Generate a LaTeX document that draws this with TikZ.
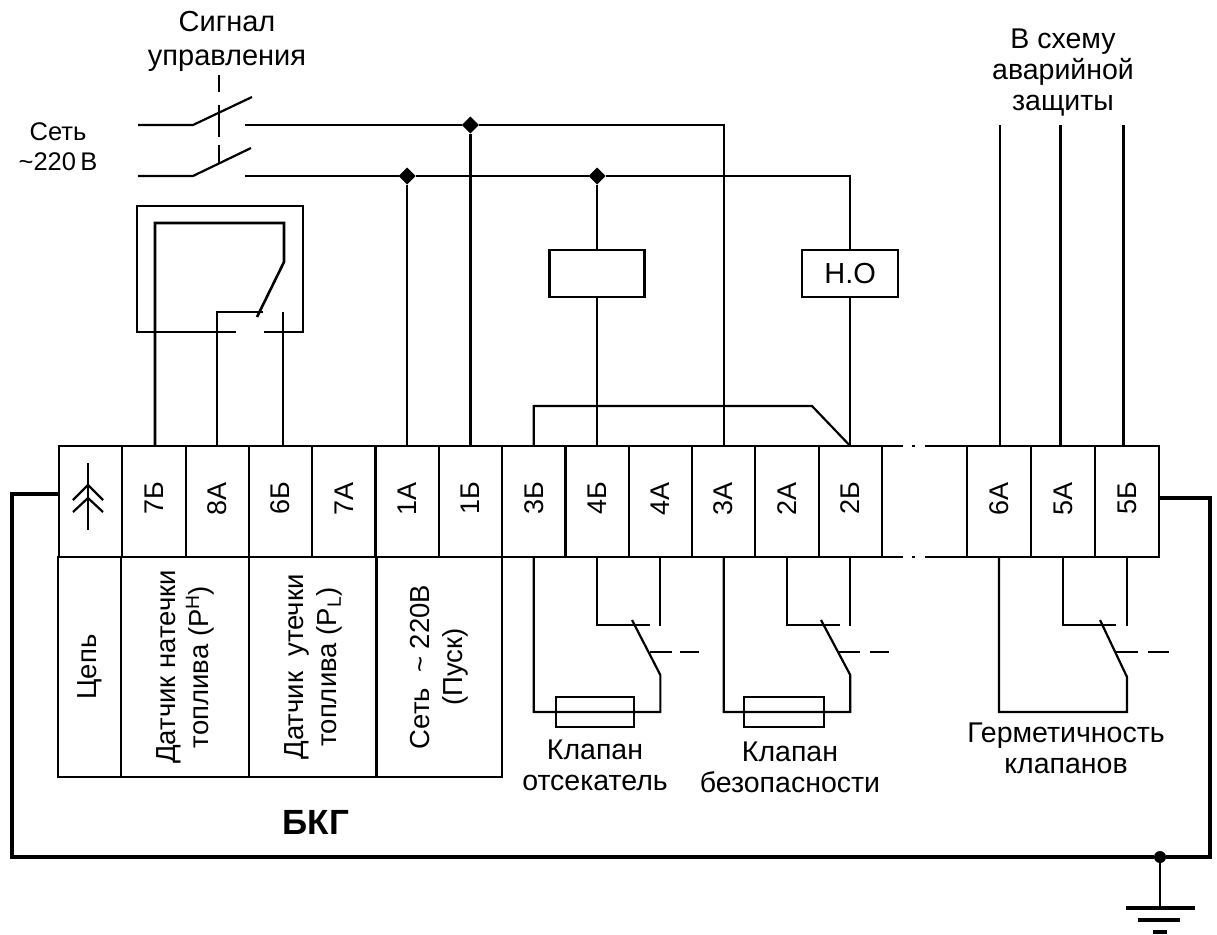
\documentclass[tikz,border=0pt]{standalone}
\usepackage{fontspec}
\usepackage{graphicx}
\setmainfont{Liberation Sans}
\usetikzlibrary{shapes.geometric}
\tikzset{
	wire/.style={line width=2.2pt, line join=miter},
	mainwire/.style={line width=3.4pt},
	dashwire/.style={line width=1.2pt},
	cell/.style={draw, line width=2.2pt, inner sep=0pt, outer sep=0pt, minimum width=63.3pt, minimum height=111pt, font=\fontsize{27}{30}\selectfont},
	info/.style={draw, line width=2.2pt, inner sep=0pt, outer sep=0pt, minimum height=220pt, font=\fontsize{27.5}{33}\selectfont},
	relaybox/.style={draw, line width=2.2pt, inner sep=0pt, outer sep=0pt, minimum height=47pt},
	valvebox/.style={draw, line width=2.2pt, inner sep=0pt, outer sep=0pt, minimum width=78pt, minimum height=30pt},
	junction/.style={diamond, fill=black, inner sep=0pt, outer sep=0pt, minimum size=17pt},
	txt/.style={align=center, inner sep=0pt, font=\fontsize{28.5}{31}\selectfont},
}
\def\vtext#1{\rotatebox{90}{\begin{tabular}{@{}c@{}}#1\end{tabular}}}
\def\cellname#1{\rotatebox{90}{\hspace*{6pt}#1}}
\begin{document}
\begin{tikzpicture}[x=1pt, y=-1pt]
	\useasboundingbox (0, 0) rectangle (1217, 934);
	%%%%% TERMINALS %%%%%

	\node[cell] (tcom) at (90.65, 501.5) {};
	\node[cell] (t7b) at (153.95, 501.5) {\cellname{7Б}};
	\node[cell] (t8a) at (217.25, 501.5) {\cellname{8А}};
	\node[cell] (t6b) at (280.55, 501.5) {\cellname{6Б}};
	\node[cell] (t7a) at (343.85, 501.5) {\cellname{7А}};
	\node[cell] (t1a) at (407.15, 501.5) {\cellname{1А}};
	\node[cell] (t1b) at (470.45, 501.5) {\cellname{1Б}};
	\node[cell] (t3b) at (533.75, 501.5) {\cellname{3Б}};
	\node[cell] (t4b) at (597.05, 501.5) {\cellname{4Б}};
	\node[cell] (t4a) at (660.35, 501.5) {\cellname{4А}};
	\node[cell] (t3a) at (723.65, 501.5) {\cellname{3А}};
	\node[cell] (t2a) at (786.95, 501.5) {\cellname{2А}};
	\node[cell] (t2b) at (850.25, 501.5) {\cellname{2Б}};
	\node[cell, minimum width=64pt] (t6a) at (999, 501.5) {\cellname{6А}};
	\node[cell, minimum width=64pt] (t5a) at (1063, 501.5) {\cellname{5А}};
	\node[cell, minimum width=64pt] (t5b) at (1127, 501.5) {\cellname{5Б}};

	% broken part of the strip
	\draw[wire] (t2b.north east) -- (903, 446);
	\draw[wire] (912, 446) -- (915, 446);
	\draw[wire] (925, 446) -- (t6a.north west);
	\draw[wire] (t2b.south east) -- (903, 557);
	\draw[wire] (912, 557) -- (915, 557);
	\draw[wire] (925, 557) -- (t6a.south west);

	% plug symbol
	\draw[wire] (88, 463) -- (88, 530);
	\draw[wire] (73, 500) -- (88, 485) -- (103, 500);
	\draw[wire] (73, 512) -- (88, 498) -- (103, 512);

	%%%%% LOWER TABLE %%%%%

	\node[info, minimum width=63pt] (icirc) at (89.5, 667) {\vtext{Цепь}};
	\node[info, minimum width=128pt] (ipn) at (185, 667) {\vtext{Датчик натечки\\топлива (Р\textsuperscript{Н})}};
	\node[info, minimum width=128pt] (ipl) at (313, 667) {\vtext{Датчик\ \ утечки\\топлива (P\textsubscript{L})}};
	\node[info, minimum width=126pt] (inet) at (439, 667) {\vtext{Сеть\ \ \textasciitilde\ 220В\\(Пуск)}};

	%%%%% MAINS AND SWITCHES %%%%%

	\coordinate (sa1) at (138, 125);
	\coordinate (sa2) at (193, 125);
	\coordinate (sa3) at (252, 97);
	\coordinate (sa4) at (245, 125);
	\coordinate (sb1) at (138, 176);
	\coordinate (sb2) at (193, 176);
	\coordinate (sb3) at (251, 148);
	\coordinate (sb4) at (245, 176);

	\draw[wire] (sa1) -- (sa2) -- (sa3);
	\draw[wire] (sb1) -- (sb2) -- (sb3);

	\node[junction] (ja) at (470.45, 125) {};
	\node[junction] (jb) at (407.15, 176) {};
	\node[junction] (jc) at (597.05, 176) {};

	\draw[wire] (sa4) -- (ja) -| (t3a.north);
	\draw[wire] (ja) -- (t1b.north);
	\draw[wire] (sb4) -- (jb) -- (jc);
	\draw[wire] (jb) -- (t1a.north);

	\draw[dashwire] (219, 75) -- (219, 92);
	\draw[dashwire] (219, 105) -- (219, 137);
	\draw[dashwire] (219, 145) -- (219, 163);

	%%%%% RELAY AND N.O. %%%%%

	\node[relaybox, minimum width=95pt] (rel) at (597.05, 273.5) {};
	\node[relaybox, minimum width=96pt, font=\fontsize{29}{32}\selectfont] (no) at (850.25, 273.5) {Н.О};

	\draw[wire] (jc) -- (rel.north);
	\draw[wire] (rel.south) -- (t4b.north);
	\draw[wire] (jc) -| (no.north);
	\draw[wire] (no.south) -- (t2b.north);

	\coordinate (by1) at (533.75, 406);
	\coordinate (by2) at (812, 406);
	\draw[wire] (t3b.north) -- (by1) -- (by2) -- (t2b.north);

	%%%%% SENSOR %%%%%

	\draw[line width=1.3pt] (236, 332) -- (137, 332) -- (137, 206) -- (303, 206) -- (303, 332) -- (264, 332);
	\coordinate (d1) at (284, 223);
	\coordinate (d2) at (284, 262);
	\coordinate (d3) at (257, 317);
	\coordinate (d4) at (263, 312);
	\coordinate (d5) at (283, 312);
	\draw[line width=2.6pt] ([xshift=1pt]t7b.north) |- (d1) -- (d2) -- (d3);
	\draw[wire] (t8a.north) |- (d4);
	\draw[wire] ([xshift=2.45pt]t6b.north) -- (d5);

	%%%%% VALVES %%%%%

	\node[valvebox] (va) at (595, 712) {};
	\node[valvebox, minimum width=80pt] (vb) at (784, 712) {};

	\coordinate (ka1) at (660.35, 712);
	\coordinate (ka2) at (660.35, 675);
	\coordinate (ka3) at (632, 620);
	\coordinate (ka4) at (650, 625);
	\coordinate (ka5) at (660.35, 626);
	\draw[wire] (t3b.south) |- (ka1) -- (ka2) -- (ka3);
	\draw[wire] (t4b.south) |- (ka4);
	\draw[wire] (t4a.south) -- (ka5);
	\draw[dashwire] (650, 652) -- (672, 652);
	\draw[dashwire] (680, 652) -- (699, 652);

	\coordinate (kb1) at (850.25, 712);
	\coordinate (kb2) at (850.25, 675);
	\coordinate (kb3) at (821, 620);
	\coordinate (kb4) at (840, 625);
	\coordinate (kb5) at (850.25, 626);
	\draw[wire] (t3a.south) |- (kb1) -- (kb2) -- (kb3);
	\draw[wire] (t2a.south) |- (kb4);
	\draw[wire] (t2b.south) -- (kb5);
	\draw[dashwire] (838, 652) -- (860, 652);
	\draw[dashwire] (870, 652) -- (889, 652);

	\coordinate (kc1) at (1127, 712);
	\coordinate (kc2) at (1127, 677);
	\coordinate (kc3) at (1100, 620);
	\coordinate (kc4) at (1116, 625);
	\coordinate (kc5) at (1127, 626);
	\draw[wire] (t6a.south) |- (kc1) -- (kc2) -- (kc3);
	\draw[wire] (t5a.south) |- (kc4);
	\draw[wire] (t5b.south) -- (kc5);
	\draw[dashwire] (1115, 652) -- (1138, 652);
	\draw[dashwire] (1148, 652) -- (1169, 652);

	%%%%% ALARM CIRCUIT %%%%%

	\coordinate (ala) at (1000, 125);
	\coordinate (alb) at (1060.5, 125);
	\coordinate (alc) at (1123.5, 125);
	\draw[wire] (ala) -- ([xshift=1pt]t6a.north);
	\draw[wire] (alb) -- ([xshift=-2.5pt]t5a.north);
	\draw[wire] (alc) -- ([xshift=-3.5pt]t5b.north);

	%%%%% EARTH LOOP %%%%%

	\node[circle, fill=black, inner sep=0pt, minimum size=12pt] (gnd) at (1160, 857) {};
	\coordinate (lp1) at (12, 494);
	\coordinate (lp2) at (1210, 498);
	\draw[mainwire] (tcom.west |- lp1) -- (lp1) |- (gnd);
	\draw[mainwire] (t5b.east |- lp2) -- (lp2) |- (gnd);

	\coordinate (ge) at (1160, 908);
	\draw[wire] (gnd) -- (ge);
	\draw[mainwire] (1126, 908) -- (1195, 908);
	\draw[mainwire] (1138, 920) -- (1180, 920);
	\draw[mainwire] (1153, 932) -- (1167, 932);

	%%%%% LABELS %%%%%

	\node[txt, font=\fontsize{29}{34}\selectfont] (lsig) at (227, 41) {Сигнал\\управления};
	\node[txt, font=\fontsize{25.5}{30}\selectfont] (lnet) at (58, 147) {Сеть\\\textasciitilde220\,В};
	\node[txt] (lalarm) at (1063, 73) {В схему\\аварийной\\защиты};
	\node[txt] (lva) at (595, 765.5) {Клапан\\отсекатель};
	\node[txt] (lvb) at (790, 767) {Клапан\\безопасности};
	\node[txt] (lherm) at (1066, 748) {Герметичность\\клапанов};
	\node[txt, font=\bfseries\fontsize{35}{38}\selectfont] (lbkg) at (316, 822) {БКГ};
\end{tikzpicture}
\end{document}
